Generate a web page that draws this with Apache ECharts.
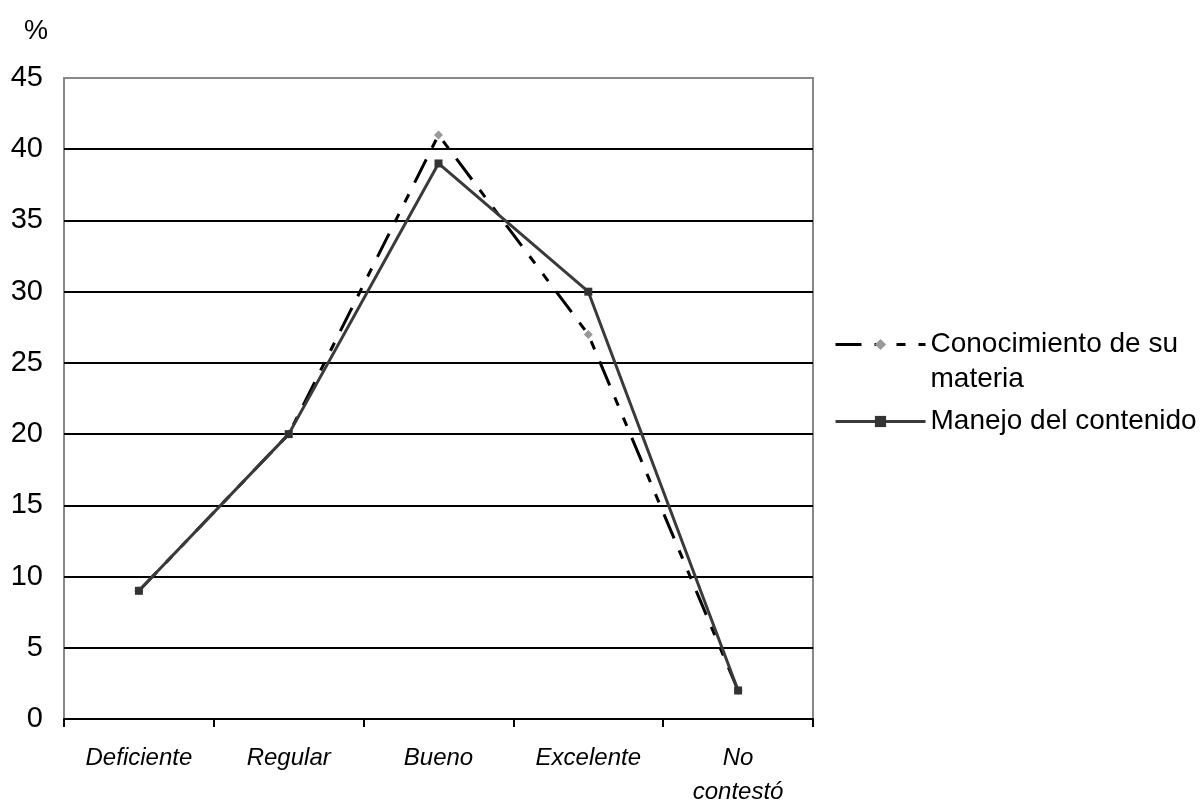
<!DOCTYPE html>
<html>
<head>
<meta charset="utf-8">
<script src="https://cdn.jsdelivr.net/npm/echarts@6/dist/echarts.min.js"></script>
<style>
  html, body { margin: 0; padding: 0; background: #fff; }
  #chart { width: 1202px; height: 803px; }
</style>
</head>
<body>
<div id="chart"></div>
<script>
// Rating categories along the horizontal axis
const categories = ['Deficiente', 'Regular', 'Bueno', 'Excelente', 'No\ncontestó'];
// Percentage of answers per rating
const conocimiento = [9, 20, 41, 27, 2];
const manejo = [9, 20, 39, 30, 2];
// Vertical axis scale
const yMin = 0, yMax = 45, yStep = 5;

const FONT = 'Liberation Sans, Arial, sans-serif';
const chart = echarts.init(document.getElementById('chart'), null, { renderer: 'canvas' });

// one split line per tick (0..45); the topmost one sits on the grey frame
const splitColors = [];
for (let v = yMin; v <= yMax; v += yStep) splitColors.push(v === yMax ? '#888888' : '#000000');

const NAME_1 = 'Conocimiento de su\nmateria';
const NAME_2 = 'Manejo del contenido';

chart.setOption({
  backgroundColor: '#ffffff',
  animation: false,
  textStyle: { fontFamily: FONT, color: '#000' },
  grid: {
    left: 64, right: 389, top: 78, bottom: 84,
    outerBoundsMode: 'none',
    containLabel: false,
    show: true, borderColor: '#888888', borderWidth: 2, backgroundColor: 'transparent'
  },
  legend: {
    orient: 'vertical',
    left: 829, top: 287,
    itemWidth: 90, itemHeight: 14, itemGap: 7,
    lineStyle: { width: 3 },
    textStyle: { fontFamily: FONT, fontSize: 28, color: '#000', lineHeight: 35 },
    // a leading empty line keeps the marker level with the first text line
    formatter: name => (name.indexOf('\n') >= 0 ? '\n' + name : name),
    data: [NAME_1, NAME_2]
  },
  xAxis: {
    type: 'category',
    data: categories,
    boundaryGap: true,
    axisLine: { show: true, lineStyle: { color: '#000', width: 2 } },
    axisTick: { show: true, length: 8, lineStyle: { color: '#000', width: 2 } },
    axisLabel: {
      fontFamily: FONT, fontSize: 24, fontStyle: 'italic', color: '#000',
      margin: 22, lineHeight: 34, interval: 0
    },
    splitLine: { show: false }
  },
  yAxis: {
    type: 'value',
    min: yMin, max: yMax, interval: yStep,
    name: '%',
    nameLocation: 'end',
    nameGap: 33,
    nameTextStyle: { fontFamily: FONT, fontSize: 27, color: '#000', align: 'right', padding: [0, 16, 0, 0] },
    axisLine: { show: false },
    axisTick: { show: false },
    axisLabel: { fontFamily: FONT, fontSize: 29, color: '#000', margin: 21 },
    splitLine: { show: true, lineStyle: { color: splitColors, width: 2 } }
  },
  series: [
    {
      name: NAME_1,
      type: 'line',
      data: conocimiento,
      symbol: 'diamond',
      symbolSize: 9,
      itemStyle: { color: '#999999' },
      lineStyle: { color: '#000000', width: 3, type: [26, 13, 9, 13, 9, 13] },
      z: 2
    },
    {
      name: NAME_2,
      type: 'line',
      data: manejo,
      symbol: 'rect',
      symbolSize: 8,
      itemStyle: { color: '#333333' },
      lineStyle: { color: '#3a3a3a', width: 3 },
      z: 3
    }
  ]
});
</script>
</body>
</html>
